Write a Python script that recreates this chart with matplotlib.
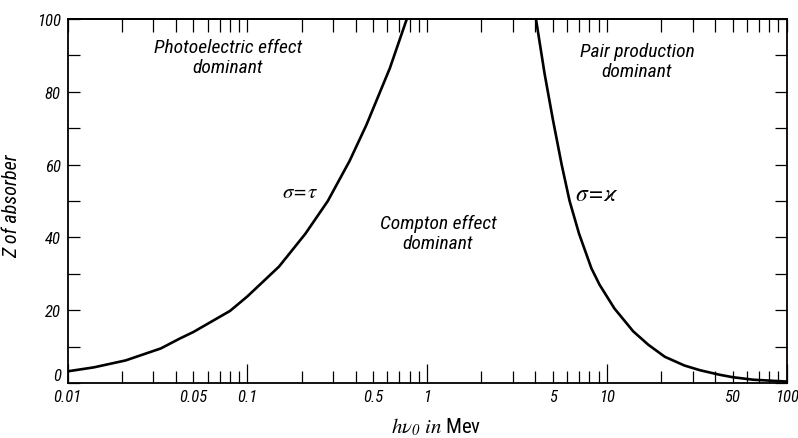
import matplotlib
matplotlib.use('Agg')
import matplotlib.pyplot as plt
from matplotlib import font_manager
from matplotlib.ticker import FixedLocator, FuncFormatter, NullFormatter

# Photon energy (MeV) and absorber Z along the sigma = tau boundary
tau_energy = [0.01, 0.014, 0.021, 0.033, 0.042, 0.05, 0.08, 0.1, 0.15,
              0.21, 0.28, 0.37, 0.46, 0.62, 0.77]
tau_z = [3.2, 4.3, 6.2, 9.5, 12.2, 14.0, 19.8, 23.8, 32,
         41, 50, 61, 71, 86.5, 100]

# Photon energy (MeV) and absorber Z along the sigma = kappa boundary
kappa_energy = [4.03, 4.5, 5.0, 5.6, 6.2, 7.0, 8.2, 9.1, 11, 14, 17, 21,
                27, 33, 42, 50, 65, 100]
kappa_z = [100, 85, 72.5, 60, 50, 41, 31.5, 27, 20.5, 14.2, 10.5, 7.2,
           4.8, 3.5, 2.3, 1.6, 0.9, 0.4]

x_major = [0.01, 0.1, 1, 10, 100]
x_minor = [m * d for d in [0.01, 0.1, 1, 10] for m in range(2, 10)]
x_tick_text = {0.01: '0.01', 0.05: '0.05', 0.1: '0.1', 0.5: '0.5', 1: '1',
               5: '5', 10: '10', 50: '50', 100: '100'}

# pick a narrow face if one is installed
names = {f.name for f in font_manager.fontManager.ttflist}
family = 'DejaVu Sans'
for cand in ['Liberation Sans Narrow', 'DejaVu Sans Condensed', 'Roboto Condensed']:
    if cand in names:
        family = cand
        break
plt.rcParams['font.family'] = [family, 'DejaVu Sans']
plt.rcParams['font.style'] = 'italic'

fig = plt.figure(figsize=(7.98, 4.39), dpi=100)
ax = fig.add_axes([0.0848, 0.1253, 0.901, 0.829])

ax.plot(tau_energy, tau_z, color='black', lw=1.9, solid_joinstyle='round')
ax.plot(kappa_energy, kappa_z, color='black', lw=1.9, solid_joinstyle='round')

ax.set_xscale('log')
ax.set_xlim(0.01, 100)
ax.set_ylim(0, 100)

for s in ax.spines.values():
    s.set_linewidth(1.3)

# bottom axis: long ticks at decades, short ones between
ax.xaxis.set_major_locator(FixedLocator(x_major))
ax.xaxis.set_minor_locator(FixedLocator(x_minor))
fmt = FuncFormatter(lambda v, p: x_tick_text.get(round(v, 4), ''))
ax.xaxis.set_major_formatter(fmt)
ax.xaxis.set_minor_formatter(fmt)
ax.tick_params(axis='x', which='major', direction='in', length=13.5, width=0.9,
               labelsize=12, pad=4)
ax.tick_params(axis='x', which='minor', direction='in', length=8.3, width=0.9,
               labelsize=12, pad=4)

top = ax.secondary_xaxis('top')
top.xaxis.set_major_locator(FixedLocator(x_major))
top.xaxis.set_minor_locator(FixedLocator(x_minor))
top.xaxis.set_major_formatter(NullFormatter())
top.xaxis.set_minor_formatter(NullFormatter())
top.tick_params(which='both', direction='in', length=9, width=0.9)
top.spines['top'].set_linewidth(1.3)

ax.set_yticks([0, 20, 40, 60, 80, 100])
ax.set_yticks(range(10, 100, 20), minor=True)
ax.tick_params(axis='y', which='both', direction='in', length=8.6, width=0.9,
               labelsize=12, pad=5, right=True)
# the zero sits a little above the axis line
zero_lbl = ax.get_yticklabels()[0]
zero_lbl.set_va('bottom')

ax.set_ylabel('Z of absorber', fontsize=14.5)
ax.yaxis.set_label_coords(-0.064, 0.49)
ax.set_xlabel(r'$h\nu_0$ $\mathit{in}$ Mev', fontsize=15, fontstyle='normal',
              math_fontfamily='stix')
ax.xaxis.set_label_coords(0.512, -0.088)

# region names
ax.text(0.078, 89.5, 'Photoelectric effect\ndominant', ha='center', va='center',
        fontsize=14, linespacing=1.15)
ax.text(14.7, 88.6, 'Pair production\ndominant', ha='center', va='center',
        fontsize=14, linespacing=1.15)
ax.text(1.15, 41.3, 'Compton effect\ndominant', ha='center', va='center',
        fontsize=14, linespacing=1.15)

# curve names
ax.text(0.196, 52.6, r'$\sigma\!=\!\tau$', ha='center', va='center',
        fontsize=15, math_fontfamily='stix')
ax.text(8.8, 52.0, r'$\sigma\!=\!\varkappa$', ha='center', va='center',
        fontsize=17, math_fontfamily='stix')

fig.savefig('out.png', dpi=100)
